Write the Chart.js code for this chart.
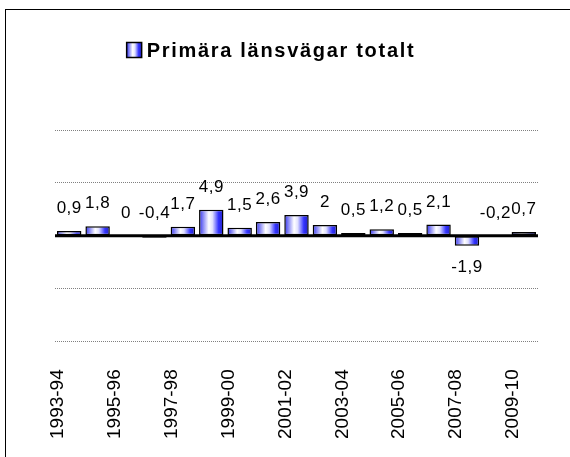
<!DOCTYPE html>
<html>
<head>
<meta charset="utf-8">
<script src="https://cdn.jsdelivr.net/npm/chart.js@4.4.0/dist/chart.umd.min.js"></script>
<style>
  html, body { margin: 0; padding: 0; background: #fff; }
  #wrap { position: relative; width: 570px; height: 457px; }
  #frame { position: absolute; left: 5px; top: 9px; width: 600px; height: 500px; border: 1.5px solid #000; box-sizing: border-box; }
  canvas { position: absolute; left: 0; top: 0; }
</style>
</head>
<body>
<div id="wrap">
  <div id="frame"></div>
  <canvas id="chart" width="570" height="457"></canvas>
</div>
<script>
const categories = ['1993-94', '1994-95', '1995-96', '1996-97', '1997-98', '1998-99', '1999-00', '2000-01',
  '2001-02', '2002-03', '2003-04', '2004-05', '2005-06', '2006-07', '2007-08', '2008-09', '2009-10'];
const values = [0.9, 1.8, 0, -0.4, 1.7, 4.9, 1.5, 2.6, 3.9, 2, 0.5, 1.2, 0.5, 2.1, -1.9, -0.2, 0.7];
const seriesName = 'Primära länsvägar totalt';
const yMin = -20, yMax = 20, yStep = 10;

const BAR_PCT = 0.86;
const FONT = '"Liberation Sans", Arial, sans-serif';

function barGradient(ctx, x0, x1) {
  const g = ctx.createLinearGradient(x0, 0, x1, 0);
  g.addColorStop(0, '#3030f0');
  g.addColorStop(0.4, '#ffffff');
  g.addColorStop(0.55, '#e0e0ff');
  g.addColorStop(0.8, '#3333ff');
  g.addColorStop(1, '#2020c0');
  return g;
}

function fillFor(context) {
  const chart = context.chart;
  const xs = chart.scales.x;
  if (!xs || xs.width === undefined) return '#6060ff';
  const x = xs.getPixelForValue(context.dataIndex);
  const w = xs.width / categories.length * BAR_PCT;
  return barGradient(chart.ctx, x - w / 2, x + w / 2);
}

// zero line, value labels and the legend (drawn by hand to get the wide lettering)
const extras = {
  id: 'extras',
  afterDatasetsDraw(chart) {
    const ctx = chart.ctx;
    const ys = chart.scales.y;
    const area = chart.chartArea;
    const y0 = ys.getPixelForValue(0);
    ctx.save();
    ctx.strokeStyle = '#000';
    ctx.lineWidth = 3;
    ctx.beginPath();
    ctx.moveTo(area.left, y0);
    ctx.lineTo(area.right, y0);
    ctx.stroke();

    ctx.fillStyle = '#000';
    ctx.font = '17px ' + FONT;
    ctx.textAlign = 'center';
    if ('letterSpacing' in ctx) ctx.letterSpacing = '0.5px';
    const meta = chart.getDatasetMeta(0);
    meta.data.forEach((bar, i) => {
      const v = values[i];
      const txt = String(v).replace('.', ',');
      if (v >= -1) {
        ctx.textBaseline = 'bottom';
        ctx.fillText(txt, bar.x, ys.getPixelForValue(Math.max(v, 0)) - 14);
      } else {
        ctx.textBaseline = 'top';
        ctx.fillText(txt, bar.x, ys.getPixelForValue(v) + 13);
      }
    });
    ctx.restore();
  },
  afterDraw(chart) {
    const ctx = chart.ctx;
    const label = chart.data.datasets[0].label;
    const s = 15, gap = 5, cy = 50;
    ctx.save();
    ctx.font = 'bold 20px ' + FONT;
    if ('letterSpacing' in ctx) ctx.letterSpacing = '1.7px';
    const tw = ctx.measureText(label).width;
    const left = chart.width / 2 - 14 - (s + gap + tw) / 2;
    ctx.fillStyle = barGradient(ctx, left, left + s);
    ctx.fillRect(left, cy - s / 2, s, s);
    ctx.strokeStyle = '#000';
    ctx.lineWidth = 1.5;
    ctx.strokeRect(left, cy - s / 2, s, s);
    ctx.fillStyle = '#000';
    ctx.textAlign = 'left';
    ctx.textBaseline = 'middle';
    ctx.fillText(label, left + s + gap, cy + 1);
    ctx.restore();
  }
};

new Chart(document.getElementById('chart').getContext('2d'), {
  type: 'bar',
  data: {
    labels: categories,
    datasets: [{
      label: seriesName,
      data: values,
      backgroundColor: fillFor,
      borderColor: '#000',
      borderWidth: 1.5,
      borderSkipped: false,
      barPercentage: BAR_PCT,
      categoryPercentage: 1
    }]
  },
  options: {
    responsive: false,
    animation: false,
    layout: { padding: { left: 55, right: 32, top: 130, bottom: -10 } },
    scales: {
      x: {
        afterFit: function(scale) { scale.paddingLeft = 0; scale.paddingRight = 0; },
        grid: { display: false, drawTicks: false },
        border: { display: false },
        ticks: {
          autoSkip: false,
          maxRotation: 90,
          minRotation: 90,
          padding: 28,
          labelOffset: -11,
          color: '#000',
          font: { family: FONT, size: 19 },
          callback: function(val, i) { return i % 2 === 0 ? categories[i] : ''; }
        }
      },
      y: {
        min: yMin,
        max: yMax,
        ticks: { stepSize: yStep, display: false },
        grid: { color: '#808080', lineWidth: 1, drawTicks: false },
        border: { display: false, dash: [1, 1] }
      }
    },
    plugins: {
      legend: { display: false },
      tooltip: { enabled: false }
    }
  },
  plugins: [extras]
});
</script>
</body>
</html>
